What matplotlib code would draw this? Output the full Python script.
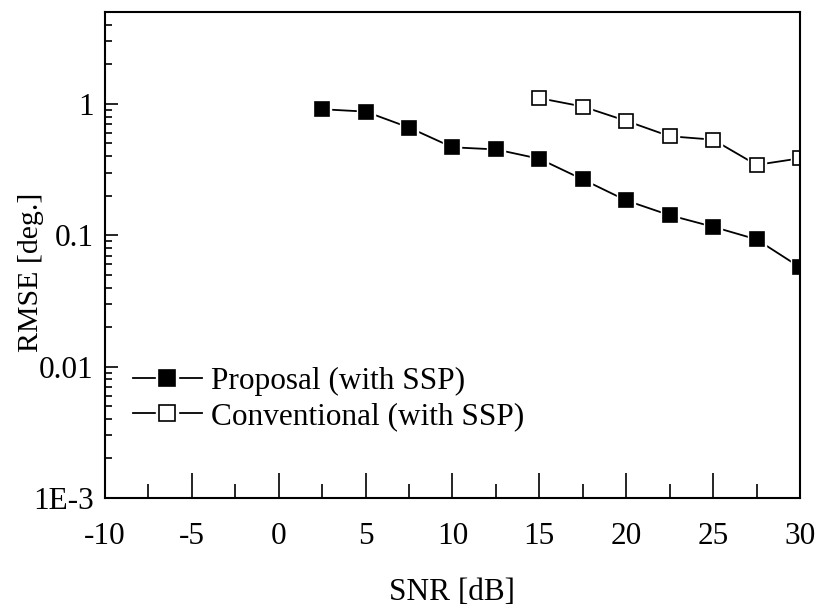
import matplotlib
matplotlib.use("Agg")
import matplotlib.pyplot as plt
from matplotlib.ticker import FixedLocator, FixedFormatter, LogLocator, NullFormatter, MultipleLocator

plt.rcParams['font.family'] = ['Liberation Serif', 'DejaVu Serif']
plt.rcParams['axes.unicode_minus'] = False

# RMSE vs SNR
snr_prop = [2.5, 5, 7.5, 10, 12.5, 15, 17.5, 20, 22.5, 25, 27.5, 30]
rmse_prop = [0.91, 0.873, 0.66, 0.467, 0.45, 0.382, 0.266, 0.184, 0.142, 0.116, 0.093, 0.057]

snr_conv = [15, 17.5, 20, 22.5, 25, 27.5, 30]
rmse_conv = [1.105, 0.954, 0.742, 0.567, 0.534, 0.343, 0.385]

ytick_vals = [1e-3, 0.01, 0.1, 1]
ytick_text = ['1E-3', '0.01', '0.1', '1']

fig = plt.figure(figsize=(8.22, 6.10), dpi=100)
ax = fig.add_axes([0.1277, 0.1836, 0.8455, 0.7967])

ms = 9.5
lw = 1.3


def series(x, y, face, label):
    ln, = ax.plot(x, y, '-', color='black', lw=lw)
    # white halo so the line stops just short of each marker
    halo, = ax.plot(x, y, 's', ls='none', ms=ms + 4, mfc='white', mec='white')
    mk, = ax.plot(x, y, 's', ls='none', ms=ms, mfc=face, mec='black', mew=1.2)
    return (ln, halo, mk), label


h1 = series(snr_prop, rmse_prop, 'black', 'Proposal (with SSP)')
h2 = series(snr_conv, rmse_conv, 'white', 'Conventional (with SSP)')

ax.set_yscale('log')
ax.set_xlim(-10, 30)
ax.set_ylim(1e-3, 5)

ax.yaxis.set_major_locator(FixedLocator(ytick_vals))
ax.yaxis.set_major_formatter(FixedFormatter(ytick_text))
ax.yaxis.set_minor_locator(LogLocator(base=10, subs=range(2, 10)))
ax.yaxis.set_minor_formatter(NullFormatter())
ax.xaxis.set_major_locator(MultipleLocator(5))
ax.xaxis.set_minor_locator(MultipleLocator(2.5))

ax.tick_params(axis='both', which='both', direction='in', top=False, right=False,
               labelsize=22.5, width=1.2)
ax.tick_params(axis='x', which='major', length=18, pad=17)
ax.tick_params(axis='x', which='minor', length=10)
ax.tick_params(axis='y', which='major', length=9, pad=8)
ax.tick_params(axis='y', which='minor', length=5)
for sp in ax.spines.values():
    sp.set_linewidth(1.5)

ax.set_xlabel('SNR [dB]', fontsize=22.5, labelpad=20)
ax.set_ylabel('RMSE [deg.]', fontsize=21.5)
ax.yaxis.set_label_coords(-0.088, 0.465)

ax.legend([h1[0], h2[0]], [h1[1], h2[1]], loc='lower left',
          bbox_to_anchor=(0.0, 0.08), frameon=False, fontsize=22.5,
          handlelength=2.2, handletextpad=0.3, labelspacing=0.2, markerscale=1.2)

fig.savefig('out.png', dpi=100)
